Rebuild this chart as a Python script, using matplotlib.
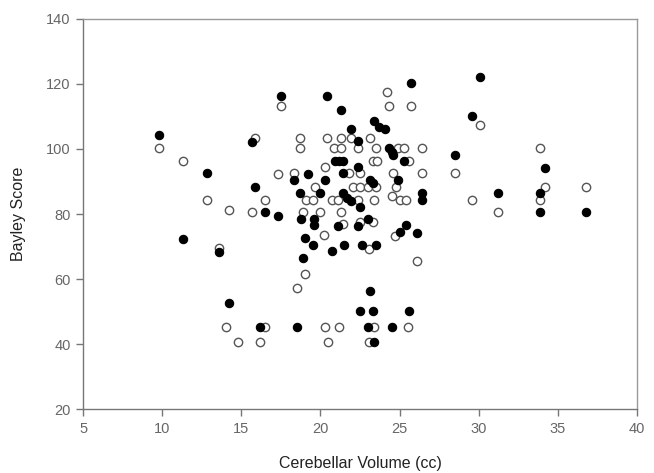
import matplotlib
matplotlib.use('Agg')
import matplotlib.pyplot as plt

# filled (black) points: cerebellar volume (cc), Bayley score
filled_vol = [9.8, 11.3, 12.86, 13.6, 14.2, 15.7, 15.85, 16.2, 16.5, 17.3, 17.5,
              18.3, 18.5, 18.7, 18.75, 18.9, 19.0, 19.2, 19.5, 19.6, 19.6, 19.95,
              20.3, 20.4, 20.7, 20.9, 21.2, 21.4, 21.1, 21.3, 21.4, 21.4, 21.5,
              21.7, 21.9, 21.9, 22.4, 22.4, 22.4, 22.5, 22.5, 22.6, 23.0, 23.0,
              23.1, 23.1, 23.3, 23.3, 23.4, 23.4, 23.5, 23.7, 24.1, 24.3, 24.5,
              24.5, 24.6, 24.9, 25.0, 25.3, 25.4, 25.6, 25.7, 26.1, 26.4, 26.4,
              28.5, 29.6, 30.1, 31.2, 33.9, 33.9, 34.2, 36.8]
filled_score = [104.4, 72.3, 92.5, 68.4, 52.5, 102.3, 88.3, 45.3, 80.5, 79.5, 116.4,
                90.4, 45.3, 86.4, 78.5, 66.6, 72.5, 92.4, 70.4, 78.6, 76.5, 86.4,
                90.5, 116.4, 68.5, 96.4, 96.4, 96.4, 76.4, 112.1, 92.5, 86.4, 70.4,
                85.0, 83.9, 106.3, 102.4, 94.6, 76.3, 82.2, 50.3, 70.4, 78.6, 45.3,
                90.6, 56.3, 89.6, 50.3, 108.5, 40.5, 70.4, 106.8, 106.3, 100.3, 99.1,
                45.3, 98.2, 90.5, 74.5, 96.4, 76.5, 50.3, 120.3, 74.2, 86.4, 84.4,
                98.2, 110.2, 122.2, 86.4, 86.4, 80.6, 94.3, 80.6]

# open (white) points
open_vol = [9.8, 11.3, 12.86, 13.6, 14.2, 14.06, 14.8, 15.7, 15.85, 16.2, 16.5,
            16.5, 17.3, 17.5, 18.3, 18.5, 18.7, 18.7, 18.9, 19.0, 19.1, 19.5,
            19.65, 19.95, 20.2, 20.3, 20.3, 20.4, 20.5, 20.7, 20.85, 21.1, 21.2,
            21.3, 21.3, 21.3, 21.4, 21.8, 21.95, 22.05, 22.4, 22.4, 22.5, 22.5,
            22.5, 23.0, 23.05, 23.1, 23.07, 23.3, 23.3, 23.4, 23.4, 23.5, 23.5,
            23.6, 24.2, 24.3, 24.5, 24.6, 24.7, 24.8, 24.9, 25.0, 25.3, 25.4,
            25.5, 25.6, 25.7, 26.1, 26.4, 26.4, 28.5, 29.6, 30.1, 31.2, 33.9,
            33.9, 34.2, 36.8]
open_score = [100.3, 96.2, 84.3, 69.5, 81.3, 45.3, 40.5, 80.5, 103.5, 40.5, 45.3,
              84.3, 92.4, 113.3, 92.6, 57.3, 103.5, 100.3, 80.6, 61.5, 84.2, 84.2,
              88.2, 80.6, 73.5, 94.6, 45.3, 103.5, 40.5, 84.2, 100.3, 84.2, 45.3,
              103.5, 100.3, 80.6, 77.0, 92.5, 103.5, 88.3, 100.3, 84.4, 92.5, 88.3,
              77.6, 88.3, 69.4, 103.4, 40.5, 96.4, 77.5, 84.2, 45.3, 100.3, 88.3,
              96.4, 117.4, 113.3, 85.4, 92.7, 73.3, 88.4, 100.3, 84.3, 100.3, 84.3,
              45.3, 96.4, 113.2, 65.6, 100.3, 92.6, 92.6, 84.3, 107.4, 80.6, 100.3,
              84.3, 88.4, 88.4]

plt.rcParams['font.family'] = ['Liberation Sans', 'DejaVu Sans']

fig = plt.figure(figsize=(6.54, 4.73), dpi=100)
ax = fig.add_axes([0.127, 0.135, 0.847, 0.825])

ax.scatter(open_vol, open_score, s=36, facecolors='white', edgecolors='#555555',
           linewidths=1.0, zorder=2)
ax.scatter(filled_vol, filled_score, s=36, facecolors='black', edgecolors='black',
           linewidths=0.8, zorder=3)

ax.set_xlim(5, 40)
ax.set_ylim(20, 140)
ax.set_xticks(range(5, 41, 5))
ax.set_yticks(range(20, 141, 20))

for sp in ax.spines.values():
    sp.set_color('#999999')
    sp.set_linewidth(1.0)
ax.spines['left'].set_color('#777777')
ax.spines['bottom'].set_color('#777777')

ax.tick_params(direction='out', length=5, width=1, color='#777777',
               labelcolor='#666666', labelsize=10.5, pad=4)

ax.set_xlabel('Cerebellar Volume (cc)', fontsize=11.5, color='#222222', labelpad=15)
ax.set_ylabel('Bayley Score', fontsize=11.5, color='#222222', labelpad=14)

fig.savefig('out.png', dpi=100)
plt.close(fig)
